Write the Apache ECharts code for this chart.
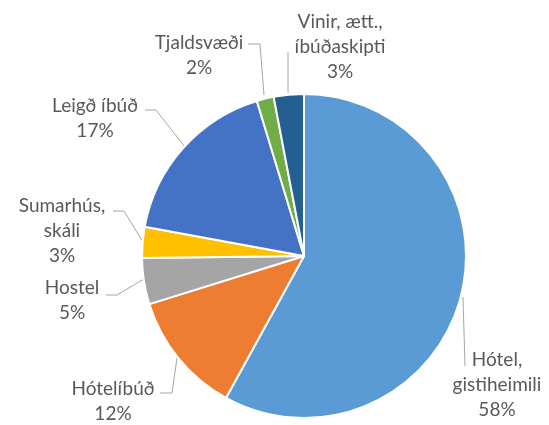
<!DOCTYPE html>
<html>
<head>
<meta charset="utf-8">
<script src="https://cdn.jsdelivr.net/npm/echarts@6/dist/echarts.min.js"></script>
<style>html,body{margin:0;padding:0;background:#fff;}#c{width:549px;height:425px;}</style>
</head>
<body>
<div id="c"></div>
<script>
const categories = ['Hótel,\ngistiheimili', 'Hótelíbúð', 'Hostel', 'Sumarhús,\nskáli', 'Leigð íbúð', 'Tjaldsvæði', 'Vinir, ætt.,\níbúðaskipti'];
const values = [58.0, 12.2, 4.6, 3.1, 17.4, 1.7, 3.0];
const colors = ['#5B9BD5', '#ED7D31', '#A5A5A5', '#FFC000', '#4472C4', '#70AD47', '#255E91'];

// label placement (text centre x, first-line centre y) and leader lines
const labelPos = [
  [497, 360], [113, 389], [72, 288], [62, 206], [95, 106], [199, 43], [340, 22]
];
const linePts = [
  [[463, 297], [464, 332], [465, 366]],
  [[177, 358], [172, 393], [160, 393]],
  [[144, 279], [117, 295], [106, 295]],
  [[143, 242], [124, 211], [113, 211]],
  [[185, 147], [156, 110], [145, 110]],
  [[264, 95], [260, 44], [248, 44]],
  [[288, 93], [288, 72], [288, 52]]
];

const chart = echarts.init(document.getElementById('c'), null, {renderer: 'canvas'});
chart.setOption({
  animation: false,
  backgroundColor: '#fff',
  series: [{
    type: 'pie',
    center: [304, 256],
    radius: 162,
    startAngle: 90,
    clockwise: true,
    data: categories.map((n, i) => ({name: n, value: values[i], itemStyle: {color: colors[i]}})),
    itemStyle: {borderColor: '#fff', borderWidth: 2},
    label: {
      show: true,
      position: 'outside',
      formatter: p => p.name + '\n' + Math.round(p.percent) + '%',
      color: '#595959',
      fontFamily: 'Lato',
      fontSize: 19,
      lineHeight: 25,
      align: 'center',
      overflow: 'none',
      width: 200
    },
    labelLine: {show: true, lineStyle: {color: '#A6A6A6', width: 1}},
    labelLayout: function (params) {
      const i = params.dataIndex;
      return {
        x: labelPos[i][0],
        y: labelPos[i][1] - 12.5,
        align: 'center',
        verticalAlign: 'top',
        labelLinePoints: linePts[i]
      };
    }
  }]
});
</script>
</body>
</html>
